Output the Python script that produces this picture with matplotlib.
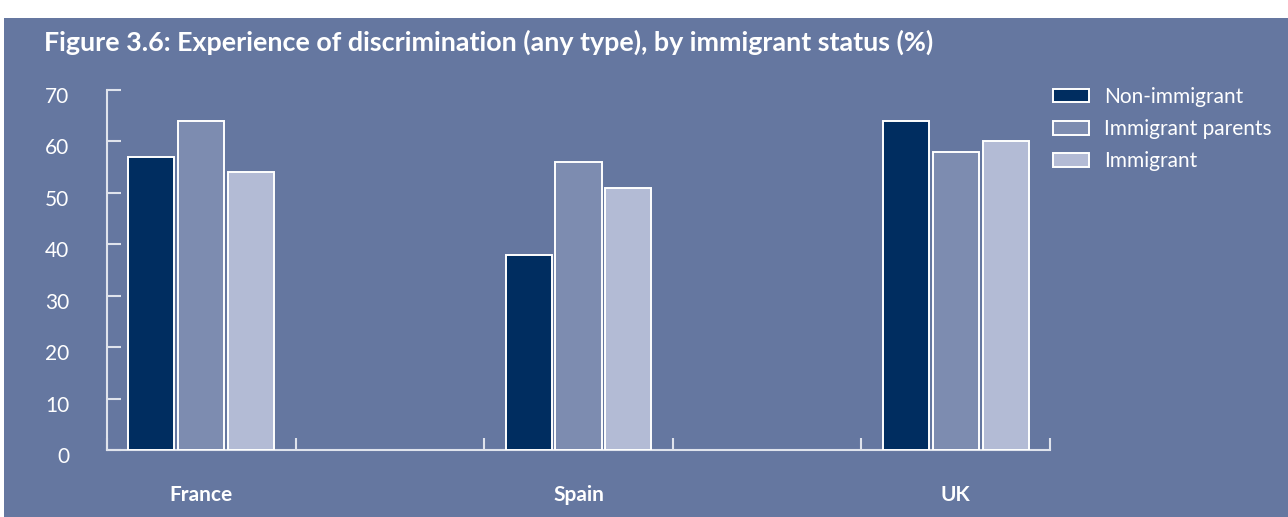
import matplotlib

matplotlib.use("Agg")
import matplotlib.pyplot as plt
from matplotlib.patches import Rectangle
from matplotlib.transforms import ScaledTranslation
import numpy as np

# data (%)
categories = ["France", "", "Spain", "", "UK"]
series = ["Non-immigrant", "Immigrant parents", "Immigrant"]
non_immigrant = [57, None, 38, None, 64]
immigrant_parents = [64, None, 56, None, 58]
immigrant = [54, None, 51, None, 60]
yticks = [0, 10, 20, 30, 40, 50, 60, 70]

BG = "#6577a0"
COLS = ["#002d60", "#7d8cb0", "#b3bbd5"]
AX = "#dfe3ec"
plt.rcParams["font.family"] = ["Lato", "DejaVu Sans"]

fig = plt.figure(figsize=(12.88, 5.17), dpi=100)
fig.patch.set_facecolor("white")
fig.patches.append(Rectangle((4 / 1288, 0), 1, 1 - 18 / 517, transform=fig.transFigure,
                             facecolor=BG, edgecolor="none", zorder=-10))

ax = fig.add_axes([107 / 1288, 1 - 450 / 517, (1050 - 107) / 1288, 360 / 517])
ax.set_facecolor("none")

x = np.arange(len(categories))
w, step = 0.244, 0.265
for k, (vals, col, lab) in enumerate(zip([non_immigrant, immigrant_parents, immigrant], COLS, series)):
    xs = [xi + (k - 1) * step for xi, v in zip(x, vals) if v is not None]
    vs = [v for v in vals if v is not None]
    ax.bar(xs, vs, width=w, color=col, edgecolor="white", linewidth=1.4, label=lab, zorder=3)

ax.set_xlim(-0.5, len(categories) - 0.5)
ax.set_ylim(0, 70)
ax.set_yticks(yticks)
ax.set_xticks(np.arange(len(categories) + 1) - 0.5)
ax.set_xticklabels([])
for xi, c in zip(x, categories):
    ax.text(xi, -0.125, c, transform=ax.get_xaxis_transform(), ha="center", va="center",
            color="white", fontsize=15, fontweight="bold")

for s in ["top", "right"]:
    ax.spines[s].set_visible(False)
for s in ["left", "bottom"]:
    ax.spines[s].set_color(AX)
    ax.spines[s].set_linewidth(1.5)
ax.tick_params(axis="y", direction="in", length=10, width=1.5, color=AX,
               labelcolor="white", labelsize=15, pad=27)
ax.tick_params(axis="x", direction="in", length=9, width=1.5, color=AX)
ax.set_yticklabels([str(v) for v in yticks])
for t in ax.yaxis.get_major_ticks():
    t.label1.set_transform(t.label1.get_transform() +
                           ScaledTranslation(0, -5 / 100, fig.dpi_scale_trans))

fig.legend(loc="upper left", bbox_to_anchor=(1053 / 1288, 1 - 87 / 517), frameon=False,
           fontsize=15, labelcolor="white", handlelength=1.73, handleheight=0.63,
           handletextpad=0.72, labelspacing=0.58, borderpad=0, borderaxespad=0)

fig.text(44 / 1288, 1 - 42 / 517, "Figure 3.6: Experience of discrimination (any type), by immigrant status (%)",
         color="white", fontsize=19.4, fontweight="bold", ha="left", va="center")

fig.savefig("out.png", dpi=100, facecolor=fig.get_facecolor())
